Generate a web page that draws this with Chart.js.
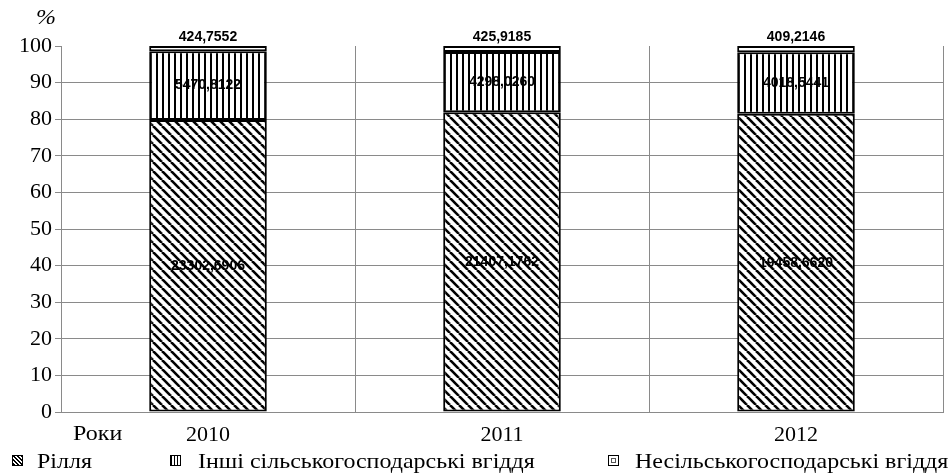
<!DOCTYPE html>
<html>
<head>
<meta charset="utf-8">
<script src="https://cdn.jsdelivr.net/npm/chart.js@4.4.0/dist/chart.umd.min.js"></script>
<style>
  body { margin: 0; background: #fff; }
  #wrap { position: relative; width: 949px; height: 475px; font-family: 'Liberation Serif', serif; }
  .txt { position: absolute; font-size: 22px; color: #000; white-space: nowrap; line-height: 22px;
         transform: scaleX(1.09); transform-origin: left center; }
  .mk { position: absolute; width: 9px; height: 9px; border: 1.5px solid #000; top: 455px; }
</style>
</head>
<body>
<div id="wrap">
  <canvas id="chart" width="949" height="475"></canvas>
  <div class="txt" style="left:36px; top:6px; font-style:italic;">%</div>
  <div class="txt" style="left:73px; top:422px;">Роки</div>
  <span class="mk" style="left:12px; background:repeating-linear-gradient(45deg,#000 0 1.5px,#fff 1.5px 3px);"></span>
  <div class="txt" style="left:37px; top:450px;">Рілля</div>
  <span class="mk" style="left:170px; background:repeating-linear-gradient(90deg,#000 0 1.5px,#fff 1.5px 3px);"></span>
  <div class="txt" style="left:198px; top:450px;">Інші сільськогосподарські вгіддя</div>
  <span class="mk" style="left:608px; background:#fff; box-shadow: inset 0 0 0 2px #fff, inset 0 0 0 3px #555;"></span>
  <div class="txt" style="left:635px; top:450px;">Несільськогосподарські вгіддя</div>
</div>
<script>
// площа угідь, тис. га
const years = ['2010', '2011', '2012'];
const rillia = [23302.6906, 21407.1762, 19458.6620];
const inshi = [5470.8122, 4298.0260, 4018.5441];
const nesilsk = [424.7552, 425.9185, 409.2146];
const yTicks = [0, 10, 20, 30, 40, 50, 60, 70, 80, 90, 100];

const totals = years.map((_, i) => rillia[i] + inshi[i] + nesilsk[i]);
const share = arr => arr.map((v, i) => v / totals[i] * 100);
const raw = [rillia, inshi, nesilsk];

function makePattern(kind) {
  const c = document.createElement('canvas');
  const ctx = c.getContext('2d');
  if (kind === 'diag') {
    c.width = 9; c.height = 9;
    ctx.fillStyle = '#fff'; ctx.fillRect(0, 0, 9, 9);
    ctx.strokeStyle = '#000'; ctx.lineWidth = 2.6;
    for (const k of [-9, 0, 9]) {
      ctx.beginPath(); ctx.moveTo(k, 0); ctx.lineTo(k + 9, 9); ctx.stroke();
    }
  } else if (kind === 'vert') {
    c.width = 6; c.height = 6;
    ctx.fillStyle = '#fff'; ctx.fillRect(0, 0, 6, 6);
    ctx.fillStyle = '#000'; ctx.fillRect(0, 0, 2, 6);
  } else {
    c.width = 6; c.height = 6;
    ctx.fillStyle = '#fff'; ctx.fillRect(0, 0, 6, 6);
    ctx.fillStyle = '#666'; ctx.fillRect(3, 3, 1, 1);
  }
  return ctx.createPattern(c, 'repeat');
}

const fmt = v => v.toFixed(4).replace('.', ',');

const valueLabels = {
  id: 'valueLabels',
  afterDatasetsDraw(chart) {
    const ctx = chart.ctx;
    ctx.save();
    ctx.font = 'bold 14px "Liberation Sans", Arial, sans-serif';
    ctx.fillStyle = '#000';
    ctx.textAlign = 'center';
    ctx.textBaseline = 'middle';
    chart.data.datasets.forEach((ds, di) => {
      chart.getDatasetMeta(di).data.forEach((el, i) => {
        const y = di === 2 ? el.y - 9 : (el.y + el.base) / 2;
        ctx.fillText(fmt(raw[di][i]), el.x, y);
      });
    });
    ctx.restore();
  }
};

const gridGray = '#8a8a8a';
const serif = { family: 'Liberation Serif', size: 22 };

new Chart(document.getElementById('chart'), {
  type: 'bar',
  data: {
    labels: years,
    datasets: [
      { label: 'Рілля', data: share(rillia), backgroundColor: makePattern('diag') },
      { label: 'Інші сільськогосподарські вгіддя', data: share(inshi), backgroundColor: makePattern('vert') },
      { label: 'Несільськогосподарські вгіддя', data: share(nesilsk), backgroundColor: makePattern('dots') }
    ].map(d => Object.assign(d, {
      borderColor: '#000', borderWidth: 2, borderSkipped: false,
      barPercentage: 0.4, categoryPercentage: 1
    }))
  },
  options: {
    responsive: false,
    animation: false,
    layout: { padding: { top: 46, right: 6, left: 0, bottom: 0 } },
    plugins: { legend: { display: false }, tooltip: { enabled: false } },
    scales: {
      x: {
        stacked: true,
        afterFit: s => { s.height = 63; },
        grid: {
          drawTicks: false,
          color: c => (c.index === 3 ? 'rgba(0,0,0,0)' : gridGray),
          lineWidth: 1
        },
        border: { color: gridGray },
        ticks: { color: '#000', padding: 10, font: serif }
      },
      y: {
        stacked: true,
        min: 0, max: 100,
        afterFit: s => { s.width = 61; },
        afterBuildTicks: s => { s.ticks = yTicks.map(v => ({ value: v })); },
        grid: {
          color: c => (c.tick && c.tick.value === 100 ? 'rgba(0,0,0,0)' : gridGray),
          tickColor: gridGray,
          tickLength: 6,
          lineWidth: 1
        },
        border: { color: gridGray },
        ticks: { color: '#000', padding: 3, font: serif }
      }
    }
  },
  plugins: [valueLabels]
});
</script>
</body>
</html>
